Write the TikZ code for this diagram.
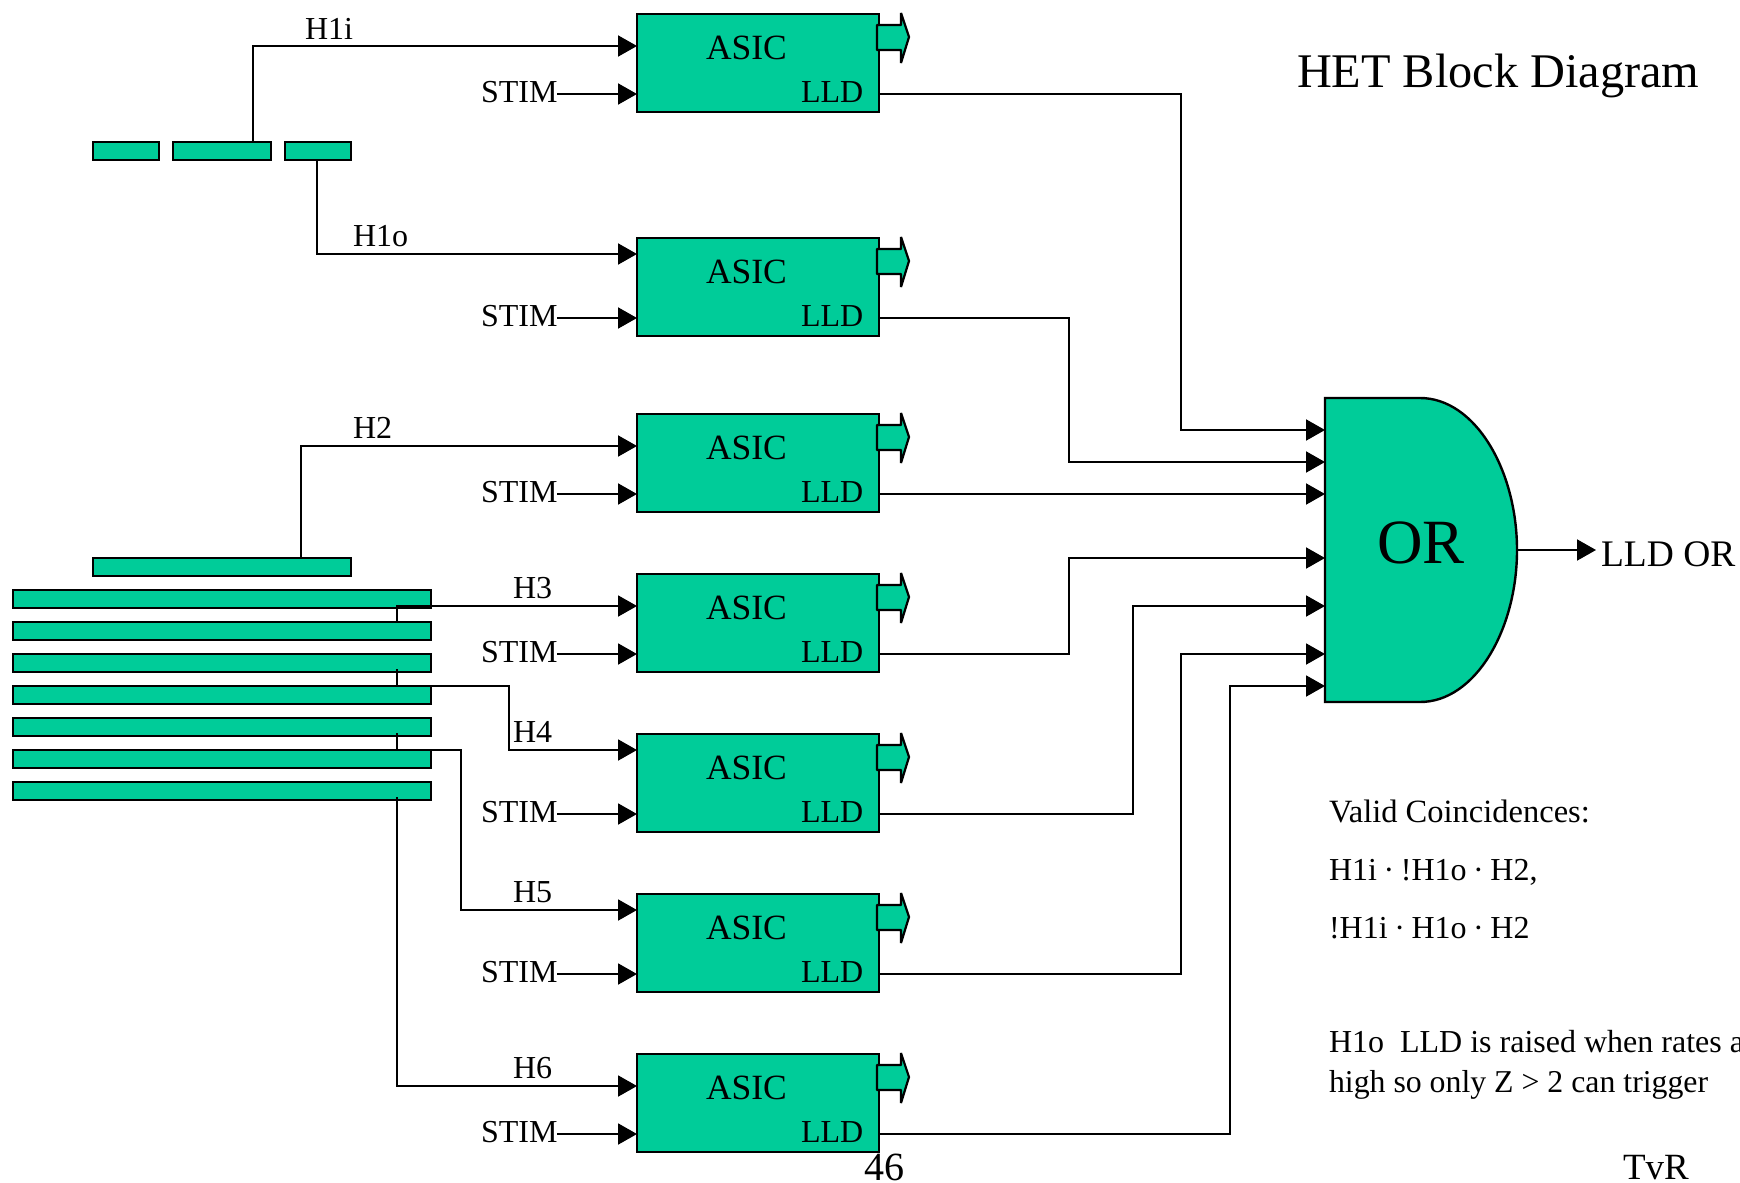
\documentclass[tikz,border=0pt]{standalone}
\usepackage{fontspec}
\setmainfont{Liberation Serif}
\usetikzlibrary{arrows.meta}
\definecolor{asicgreen}{HTML}{00CC99}
\newcommand{\fs}[1]{\fontsize{#1}{#1}\selectfont}
\newcommand{\dotsep}{\kern6.6pt·\kern6.6pt}
\tikzset{
  part/.style={draw=black,fill=asicgreen,line width=2.4pt,rectangle,inner sep=0pt,outer sep=0pt,anchor=north west},
  asicbox/.style={part,minimum width=242pt,minimum height=98pt},
  txt/.style={inner sep=0pt,outer sep=0pt,anchor=base west,font=\fs{32}},
  wire/.style={draw=black,line width=2pt},
  feed/.style={wire,-{Triangle[length=19pt,width=21pt]}},
  bus/.style={draw=black,fill=asicgreen,line width=2.2pt,line join=bevel}
}
\begin{document}
\begin{tikzpicture}[x=1pt,y=-1pt]
\useasboundingbox (0,0) rectangle (1740,1183);
% detector bars
\node[part,minimum width=66pt,minimum height=18pt] (t1) at (93,142) {};
\node[part,minimum width=98pt,minimum height=18pt] (t2) at (173,142) {};
\node[part,minimum width=66pt,minimum height=18pt] (t3) at (285,142) {};
\node[part,minimum width=258pt,minimum height=18pt] (b0) at (93,558) {};
\foreach \n/\y in {1/590,2/622,3/654,4/686,5/718,6/750,7/782}
  \node[part,minimum width=418pt,minimum height=18pt] (b\n) at (13,\y) {};
% ASIC boxes
\foreach \i/\t/\o in {1/14/32,2/238/16,3/414/32,4/574/32,5/734/16,6/894/16,7/1054/32}{
  \node[asicbox] (a\i) at (637,\t) {};
  \draw[bus] (877,\t+11) -- (901,\t+11) -- (901,\t-1) -- (909,\t+23) -- (901,\t+49) -- (901,\t+36) -- (877,\t+36) -- cycle;
  \node[txt,font=\fs{35.5}] (asic\i) at (706,\t+45) {ASIC};
  \node[txt] (lld\i) at (801,\t+88) {LLD};
  \node[txt] (stim\i) at (481,\t+88) {STIM};
  \coordinate (in\i) at (637,\t+\o);
  \coordinate (st\i) at (637,\t+80);
  \coordinate (out\i) at (879,\t+80);
  \draw[feed] (stim\i.east |- st\i) -- (st\i);
}
% OR gate
\draw[draw=black,fill=asicgreen,line width=2.4pt] (1325,398) coordinate (ortop) -- (1420,398)
  .. controls (1475,398) and (1517,470) .. (1517,550) coordinate (orout)
  .. controls (1517,630) and (1475,702) .. (1420,702) -- (1325,702) -- cycle;
\node[txt,font=\fs{63}] (ortext) at (1377,563) {OR};
\foreach \i/\y in {1/430,2/462,3/494,4/558,5/606,6/654,7/686}
  \coordinate (or\i) at (1325,\y);
% signal wires
\draw[feed] (253,142) |- (in1);
\draw[feed] (317,160) |- (in2);
\draw[feed] (301,558) |- (in3);
\draw[feed] (397,621) -- (397,606) -- (in4);
\draw[wire] (397,669) -- (397,686);
\draw[feed] (397,686) -- (509,686) |- (in5);
\draw[wire] (397,733) -- (397,750);
\draw[feed] (397,750) -- (461,750) |- (in6);
\draw[feed] (397,797) |- (in7);
% LLD outputs
\draw[feed] (out1) -- (1181,94) |- (or1);
\draw[feed] (out2) -- (1069,318) |- (or2);
\draw[feed] (out3) -- (or3);
\draw[feed] (out4) -- (1069,654) |- (or4);
\draw[feed] (out5) -- (1133,814) |- (or5);
\draw[feed] (out6) -- (1181,974) |- (or6);
\draw[feed] (out7) -- (1230,1134) |- (or7);
\node[txt,font=\fs{37.5}] (lldor) at (1601,566) {LLD OR};
\draw[feed] (orout) -- (1596,550);
% labels
\node[txt] (h1i) at (305,39) {H1i};
\node[txt] (h1o) at (353,246) {H1o};
\node[txt] (h2) at (353,438) {H2};
\node[txt] (h3) at (513,598) {H3};
\node[txt] (h4) at (513,742) {H4};
\node[txt] (h5) at (513,902) {H5};
\node[txt] (h6) at (513,1078) {H6};
\node[txt,font=\fs{48.3}] (title) at (1297,87) {HET Block Diagram};
\node[txt,font=\fs{32.5}] (v1) at (1329,822) {Valid Coincidences:};
\node[txt] (v2) at (1329,880) {H1i\dotsep!H1o\dotsep H2,};
\node[txt] (v3) at (1329,938) {!H1i\dotsep H1o\dotsep H2};
\node[txt] (n1) at (1329,1052) {H1o\ \ LLD is raised when rates a};
\node[txt,font=\fs{31.8}] (n2) at (1329,1092) {high so only Z > 2 can trigger};
\node[txt,font=\fs{40}] (page) at (864,1180.5) {46};
\node[txt,font=\fs{37}] (tvr) at (1623,1179) {TvR};
\end{tikzpicture}
\end{document}
